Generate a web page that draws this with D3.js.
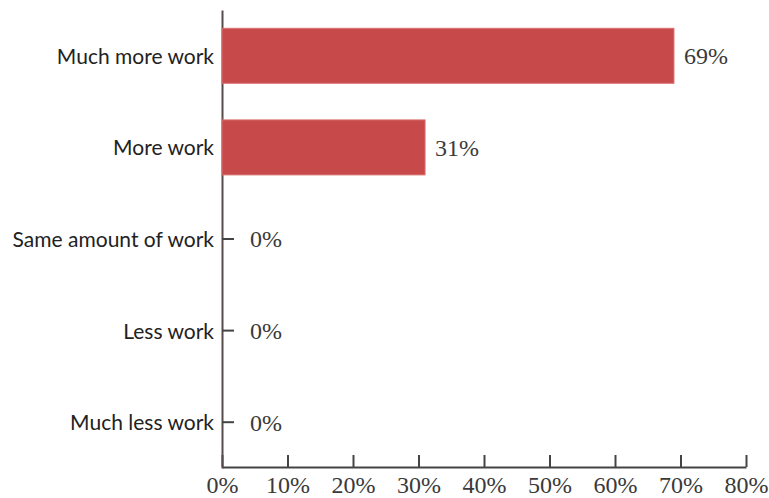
<!DOCTYPE html>
<html>
<head>
<meta charset="utf-8">
<script src="https://cdn.jsdelivr.net/npm/d3@7"></script>
<style>
  html, body { margin: 0; padding: 0; background: #fff; }
  svg { display: block; }
</style>
</head>
<body>
<svg id="chart" width="769" height="498"></svg>
<script>
// Survey responses: expected change in workload
const categories = ["Much more work", "More work", "Same amount of work", "Less work", "Much less work"];
const shares = [69, 31, 0, 0, 0];
const xTicks = [0, 10, 20, 30, 40, 50, 60, 70, 80];

const svg = d3.select("#chart");
const margin = { left: 222, right: 23, top: 10, bottom: 30 };
const W = 769, H = 498;
const serif = "'Liberation Serif', 'DejaVu Serif', serif";

const x = d3.scaleLinear().domain([0, 80]).range([margin.left, W - margin.right]);
const y = d3.scaleBand().domain(categories)
  .range([margin.top, H - margin.bottom])
  .paddingInner(0.4).paddingOuter(0.2);

const rows = categories.map((c, i) => ({ cat: c, v: shares[i] }));

// X axis (ticks pointing up into the plot)
const xAxis = svg.append("g")
  .attr("transform", `translate(0,${H - margin.bottom - 1})`)
  .call(d3.axisBottom(x).tickValues(xTicks).tickFormat(d => d + "%").tickSizeInner(-12).tickSizeOuter(0).tickPadding(3));
xAxis.select(".domain").attr("stroke", "#444").attr("stroke-width", 2);
xAxis.selectAll(".tick line").attr("stroke", "#444").attr("stroke-width", 2);
xAxis.selectAll(".tick text")
  .attr("font-family", serif)
  .attr("font-size", 24)
  .attr("fill", "#3a3a3a")
  .attr("dy", "0.95em");

// Y axis (ticks pointing right into the plot)
const yAxis = svg.append("g")
  .attr("transform", `translate(${margin.left},0)`)
  .call(d3.axisLeft(y).tickSizeInner(-12).tickSizeOuter(0).tickPadding(8));
yAxis.select(".domain").attr("stroke", "#574b4b").attr("stroke-width", 2);
yAxis.selectAll(".tick line").attr("stroke", "#444").attr("stroke-width", 2);
yAxis.selectAll(".tick text")
  .attr("font-family", "Lato, 'Open Sans', sans-serif")
  .attr("font-size", 21)
  .attr("fill", "#222")
  .attr("dy", "0.38em");

// Bars, drawn over the axis ticks
svg.append("g").selectAll("rect").data(rows).join("rect")
  .attr("x", x(0))
  .attr("y", d => y(d.cat))
  .attr("width", d => x(d.v) - x(0))
  .attr("height", y.bandwidth())
  .attr("fill", "#c8494a")
  .attr("stroke", "#d9706f")
  .attr("stroke-width", 1);

// Value labels, kept clear of the inward tick marks
svg.append("g").selectAll("text").data(rows).join("text")
  .attr("x", d => Math.max(x(d.v) + 10, x(0) + 28))
  .attr("y", d => y(d.cat) + y.bandwidth() / 2)
  .attr("dy", "0.35em")
  .attr("font-family", serif)
  .attr("font-size", 24)
  .attr("fill", "#3a3a3a")
  .text(d => d.v + "%");
</script>
</body>
</html>
